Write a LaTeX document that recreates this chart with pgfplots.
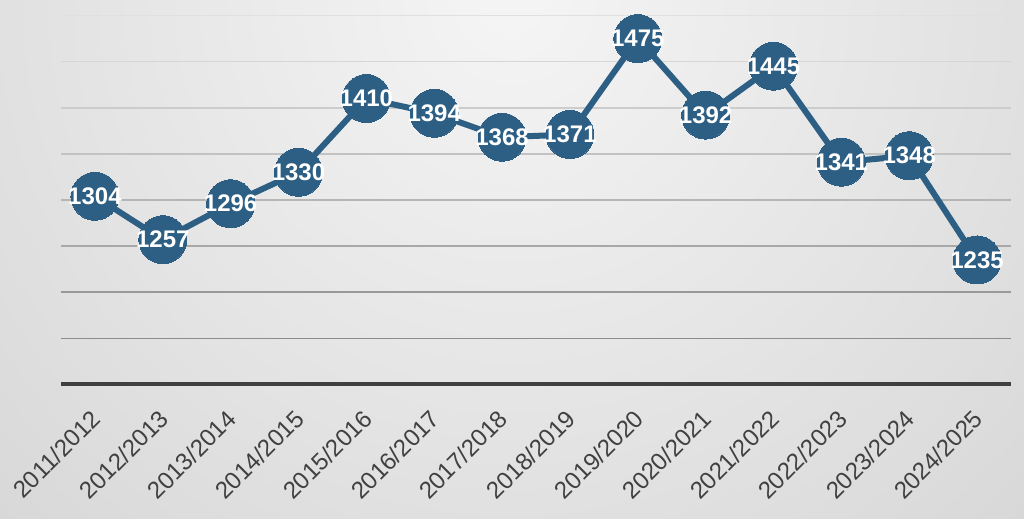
\documentclass[border=0pt]{standalone}
\usepackage{pgfplots}
\pgfplotsset{compat=1.18}
\usepackage{fontspec}
\setmainfont{Liberation Sans}
\usetikzlibrary{backgrounds,calc}
\definecolor{lineblue}{RGB}{45,94,132}
\definecolor{ticktext}{RGB}{64,64,64}
\begin{document}
\begin{tikzpicture}
\begin{axis}[
  name=ax,
  scale only axis,
  width=475pt, height=184.5pt,
  xmin=-0.5, xmax=13.5,
  ymin=1100, ymax=1500,
  axis x line*=bottom,
  axis y line=none,
  x axis line style={line width=2pt, color=ticktext, -},
  ytick=\empty,
  xtick={0,...,13},
  xticklabels={2011/2012,2012/2013,2013/2014,2014/2015,2015/2016,2016/2017,2017/2018,2018/2019,2019/2020,2020/2021,2021/2022,2022/2023,2023/2024,2024/2025},
  major tick length=0pt,
  xticklabel style={rotate=45, anchor=north east, font=\fontsize{12}{14}\selectfont, text=ticktext, inner sep=0pt, xshift=-10pt, yshift=-6.4pt},
  clip=false,
  point meta=explicit symbolic,
  nodes near coords,
  every node near coord/.append style={anchor=center, text=white, font=\bfseries\fontsize{12}{14}\selectfont, inner sep=0pt},
]
\draw[black!45, line width=0.8pt] (axis cs:-0.5,1150) -- (axis cs:13.5,1150);
\draw[black!40, line width=0.8pt] (axis cs:-0.5,1200) -- (axis cs:13.5,1200);
\draw[black!34, line width=0.8pt] (axis cs:-0.5,1250) -- (axis cs:13.5,1250);
\draw[black!29, line width=0.8pt] (axis cs:-0.5,1300) -- (axis cs:13.5,1300);
\draw[black!24, line width=0.8pt] (axis cs:-0.5,1350) -- (axis cs:13.5,1350);
\draw[black!20, line width=0.8pt] (axis cs:-0.5,1400) -- (axis cs:13.5,1400);
\draw[black!16, line width=0.8pt] (axis cs:-0.5,1450) -- (axis cs:13.5,1450);
\draw[black!12, line width=0.8pt] (axis cs:-0.5,1500) -- (axis cs:13.5,1500);
\addplot[lineblue, line width=3pt, mark=*, mark size=12pt, mark options={fill=lineblue, draw=lineblue, line width=0pt}]
coordinates {
(0,1304) [1304]
(1,1257) [1257]
(2,1296) [1296]
(3,1330) [1330]
(4,1410) [1410]
(5,1394) [1394]
(6,1368) [1368]
(7,1371) [1371]
(8,1475) [1475]
(9,1392) [1392]
(10,1445) [1445]
(11,1341) [1341]
(12,1348) [1348]
(13,1235) [1235]
};
\end{axis}
\begin{pgfonlayer}{background}
\begin{scope}
\clip ($(ax.south west)+(-30.5pt,-67.25pt)$) rectangle ($(ax.north east)+(6.5pt,7.75pt)$);
\shade[overlay, inner color=black!4, outer color=black!21]
  ($(ax.south west)+(-324.5pt,-357.75pt)$) rectangle ($(ax.south west)+(775.5pt,742.25pt)$);
\end{scope}
\end{pgfonlayer}
\end{tikzpicture}
\end{document}
